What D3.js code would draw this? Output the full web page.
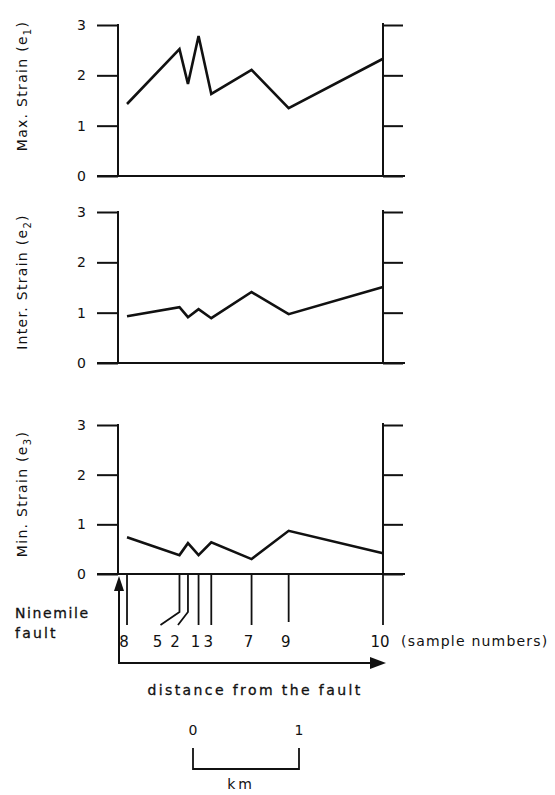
<!DOCTYPE html>
<html>
<head>
<meta charset="utf-8">
<script src="https://cdn.jsdelivr.net/npm/d3@7"></script>
<style>
  html, body { margin: 0; padding: 0; background: #fff; }
  svg { display: block; }
  text { font-family: "DejaVu Sans", Verdana, sans-serif; fill: #111; }
</style>
</head>
<body>
<svg id="chart" width="555" height="795"></svg>
<script>
// ---------------- data ----------------
const sampleIds   = ["8", "5", "2", "1", "3", "7", "9", "10"];
const distanceKm  = [0.085, 0.58, 0.66, 0.76, 0.88, 1.26, 1.61, 2.5];
const maxStrain   = [1.43, 2.52, 1.83, 2.78, 1.63, 2.11, 1.35, 2.33];
const interStrain = [0.93, 1.11, 0.91, 1.07, 0.89, 1.41, 0.97, 1.51];
const minStrain   = [0.74, 0.38, 0.62, 0.38, 0.64, 0.30, 0.87, 0.42];
const strainTicks = [0, 1, 2, 3];
const panelTitles = ["Max. Strain (e", "Inter. Strain (e", "Min. Strain (e"];
const panelSubs   = ["1", "2", "3"];
const scaleBarTicks = [0, 1];

// ---------------- layout ----------------
const svg = d3.select("#chart");
const X0 = 118, X1 = 383;
const x = d3.scaleLinear().domain([0, 2.5]).range([X0, X1]);
const panels = [
  { values: maxStrain,   top: 25,  bottom: 176, titleY: 86 },
  { values: interStrain, top: 212, bottom: 363, titleY: 282 },
  { values: minStrain,   top: 425, bottom: 574, titleY: 494 }
];
const axisStroke = 2;

panels.forEach((p, i) => {
  const y = d3.scaleLinear().domain([0, 3]).range([p.bottom, p.top]);
  const g = svg.append("g");

  // left axis
  const left = g.append("g").attr("transform", `translate(${X0},0)`)
    .call(d3.axisLeft(y).tickValues(strainTicks).tickSize(21).tickPadding(11).tickFormat(d3.format("d")));
  left.select(".domain").remove();
  left.selectAll(".tick line").attr("stroke", "#111").attr("stroke-width", axisStroke);
  left.selectAll(".tick text").attr("font-size", 14).attr("font-family", "DejaVu Sans").attr("fill", "#111");
  g.append("line").attr("x1", X0).attr("x2", X0).attr("y1", y(3) - 1).attr("y2", y(0))
    .attr("stroke", "#111").attr("stroke-width", axisStroke);

  // right axis
  const right = g.append("g").attr("transform", `translate(${X1},0)`)
    .call(d3.axisRight(y).tickValues(strainTicks).tickSize(20).tickFormat(""));
  right.select(".domain").remove();
  right.selectAll(".tick line").attr("stroke", "#111").attr("stroke-width", axisStroke);
  g.append("line").attr("x1", X1).attr("x2", X1).attr("y1", y(3) - 2).attr("y2", y(0))
    .attr("stroke", "#111").attr("stroke-width", axisStroke);

  // bottom line
  g.append("line").attr("x1", X0 - 21).attr("x2", X1 + 22).attr("y1", y(0)).attr("y2", y(0))
    .attr("stroke", "#111").attr("stroke-width", axisStroke);

  // data line
  const line = d3.line().x((d, k) => x(distanceKm[k])).y(d => y(d));
  g.append("path").datum(p.values).attr("d", line)
    .attr("fill", "none").attr("stroke", "#111").attr("stroke-width", 2.6)
    .attr("stroke-linejoin", "miter");

  // title
  const t = g.append("text")
    .attr("transform", `translate(27,${p.titleY}) rotate(-90)`)
    .attr("text-anchor", "middle").attr("font-size", 14).attr("letter-spacing", 1.3);
  t.append("tspan").text(panelTitles[i]);
  t.append("tspan").attr("dy", 4).attr("font-size", 10).text(panelSubs[i]);
  t.append("tspan").attr("dy", -4).text(")");
});

// ---------------- sample markers ----------------
const y0 = panels[2].bottom;
const lineEnd = 625, bendY = 612;
const leaderShift = [0, -19, -10, 0, 0, 0, 0, 0];
const sg = svg.append("g");
sampleIds.forEach((id, k) => {
  const sx = x(distanceKm[k]);
  const shift = leaderShift[k];
  const pts = shift === 0
    ? [[sx, y0], [sx, lineEnd - (k === 6 ? 3 : 0)]]
    : [[sx, y0], [sx, bendY], [sx + shift, lineEnd]];
  sg.append("path").attr("d", d3.line()(pts))
    .attr("fill", "none").attr("stroke", "#111").attr("stroke-width", 1.8);
  sg.append("text").attr("x", sx + shift - 3).attr("y", 647)
    .attr("text-anchor", "middle").attr("font-size", 15)
    .attr("font-family", "Liberation Sans").text(id);
});
sg.append("text").attr("x", 401).attr("y", 646).attr("font-size", 14)
  .attr("letter-spacing", 1.2).attr("font-family", "DejaVu Sans").attr("fill", "#222")
  .text("(sample numbers)");

// fault arrow (L shape)
const arrowY = 663;
const fx = X0 + 1;
sg.append("path").attr("d", d3.line()([[fx, 588], [fx, arrowY], [x(2.5) - 12, arrowY]]))
  .attr("fill", "none").attr("stroke", "#111").attr("stroke-width", 2);
sg.append("path").attr("d", d3.line()([[fx, 576], [fx - 5, 591], [fx + 5, 591]]) + "Z").attr("fill", "#111");
sg.append("path").attr("d", d3.line()([[x(2.5) + 3, arrowY], [x(2.5) - 13, arrowY - 6], [x(2.5) - 13, arrowY + 6]]) + "Z").attr("fill", "#111");

sg.append("text").attr("x", 15).attr("y", 618).attr("font-size", 14).attr("letter-spacing", 1.6)
  .attr("stroke", "#111").attr("stroke-width", 0.3).text("Ninemile");
sg.append("text").attr("x", 15).attr("y", 638).attr("font-size", 14).attr("letter-spacing", 2.2)
  .attr("stroke", "#111").attr("stroke-width", 0.3).text("fault");

sg.append("text").attr("x", 255).attr("y", 695).attr("text-anchor", "middle")
  .attr("font-size", 14).attr("letter-spacing", 2.4)
  .attr("stroke", "#111").attr("stroke-width", 0.3).text("distance from the fault");

// ---------------- scale bar ----------------
const bx0 = 193;
const bar = d3.scaleLinear().domain([0, 1]).range([bx0, bx0 + (x(1) - x(0))]);
const bg = svg.append("g");
bg.append("path").attr("d", d3.line()([[bar(0), 748], [bar(0), 769], [bar(1), 769], [bar(1), 748]]))
  .attr("fill", "none").attr("stroke", "#111").attr("stroke-width", 1.8);
scaleBarTicks.forEach(v => {
  bg.append("text").attr("x", bar(v)).attr("y", 735).attr("text-anchor", "middle")
    .attr("font-size", 14).attr("font-family", "Liberation Sans").text(d3.format("d")(v));
});
bg.append("text").attr("x", (bar(0) + bar(1)) / 2 - 5).attr("y", 789).attr("text-anchor", "middle")
  .attr("font-size", 14).attr("letter-spacing", 3).text("km");
</script>
</body>
</html>
